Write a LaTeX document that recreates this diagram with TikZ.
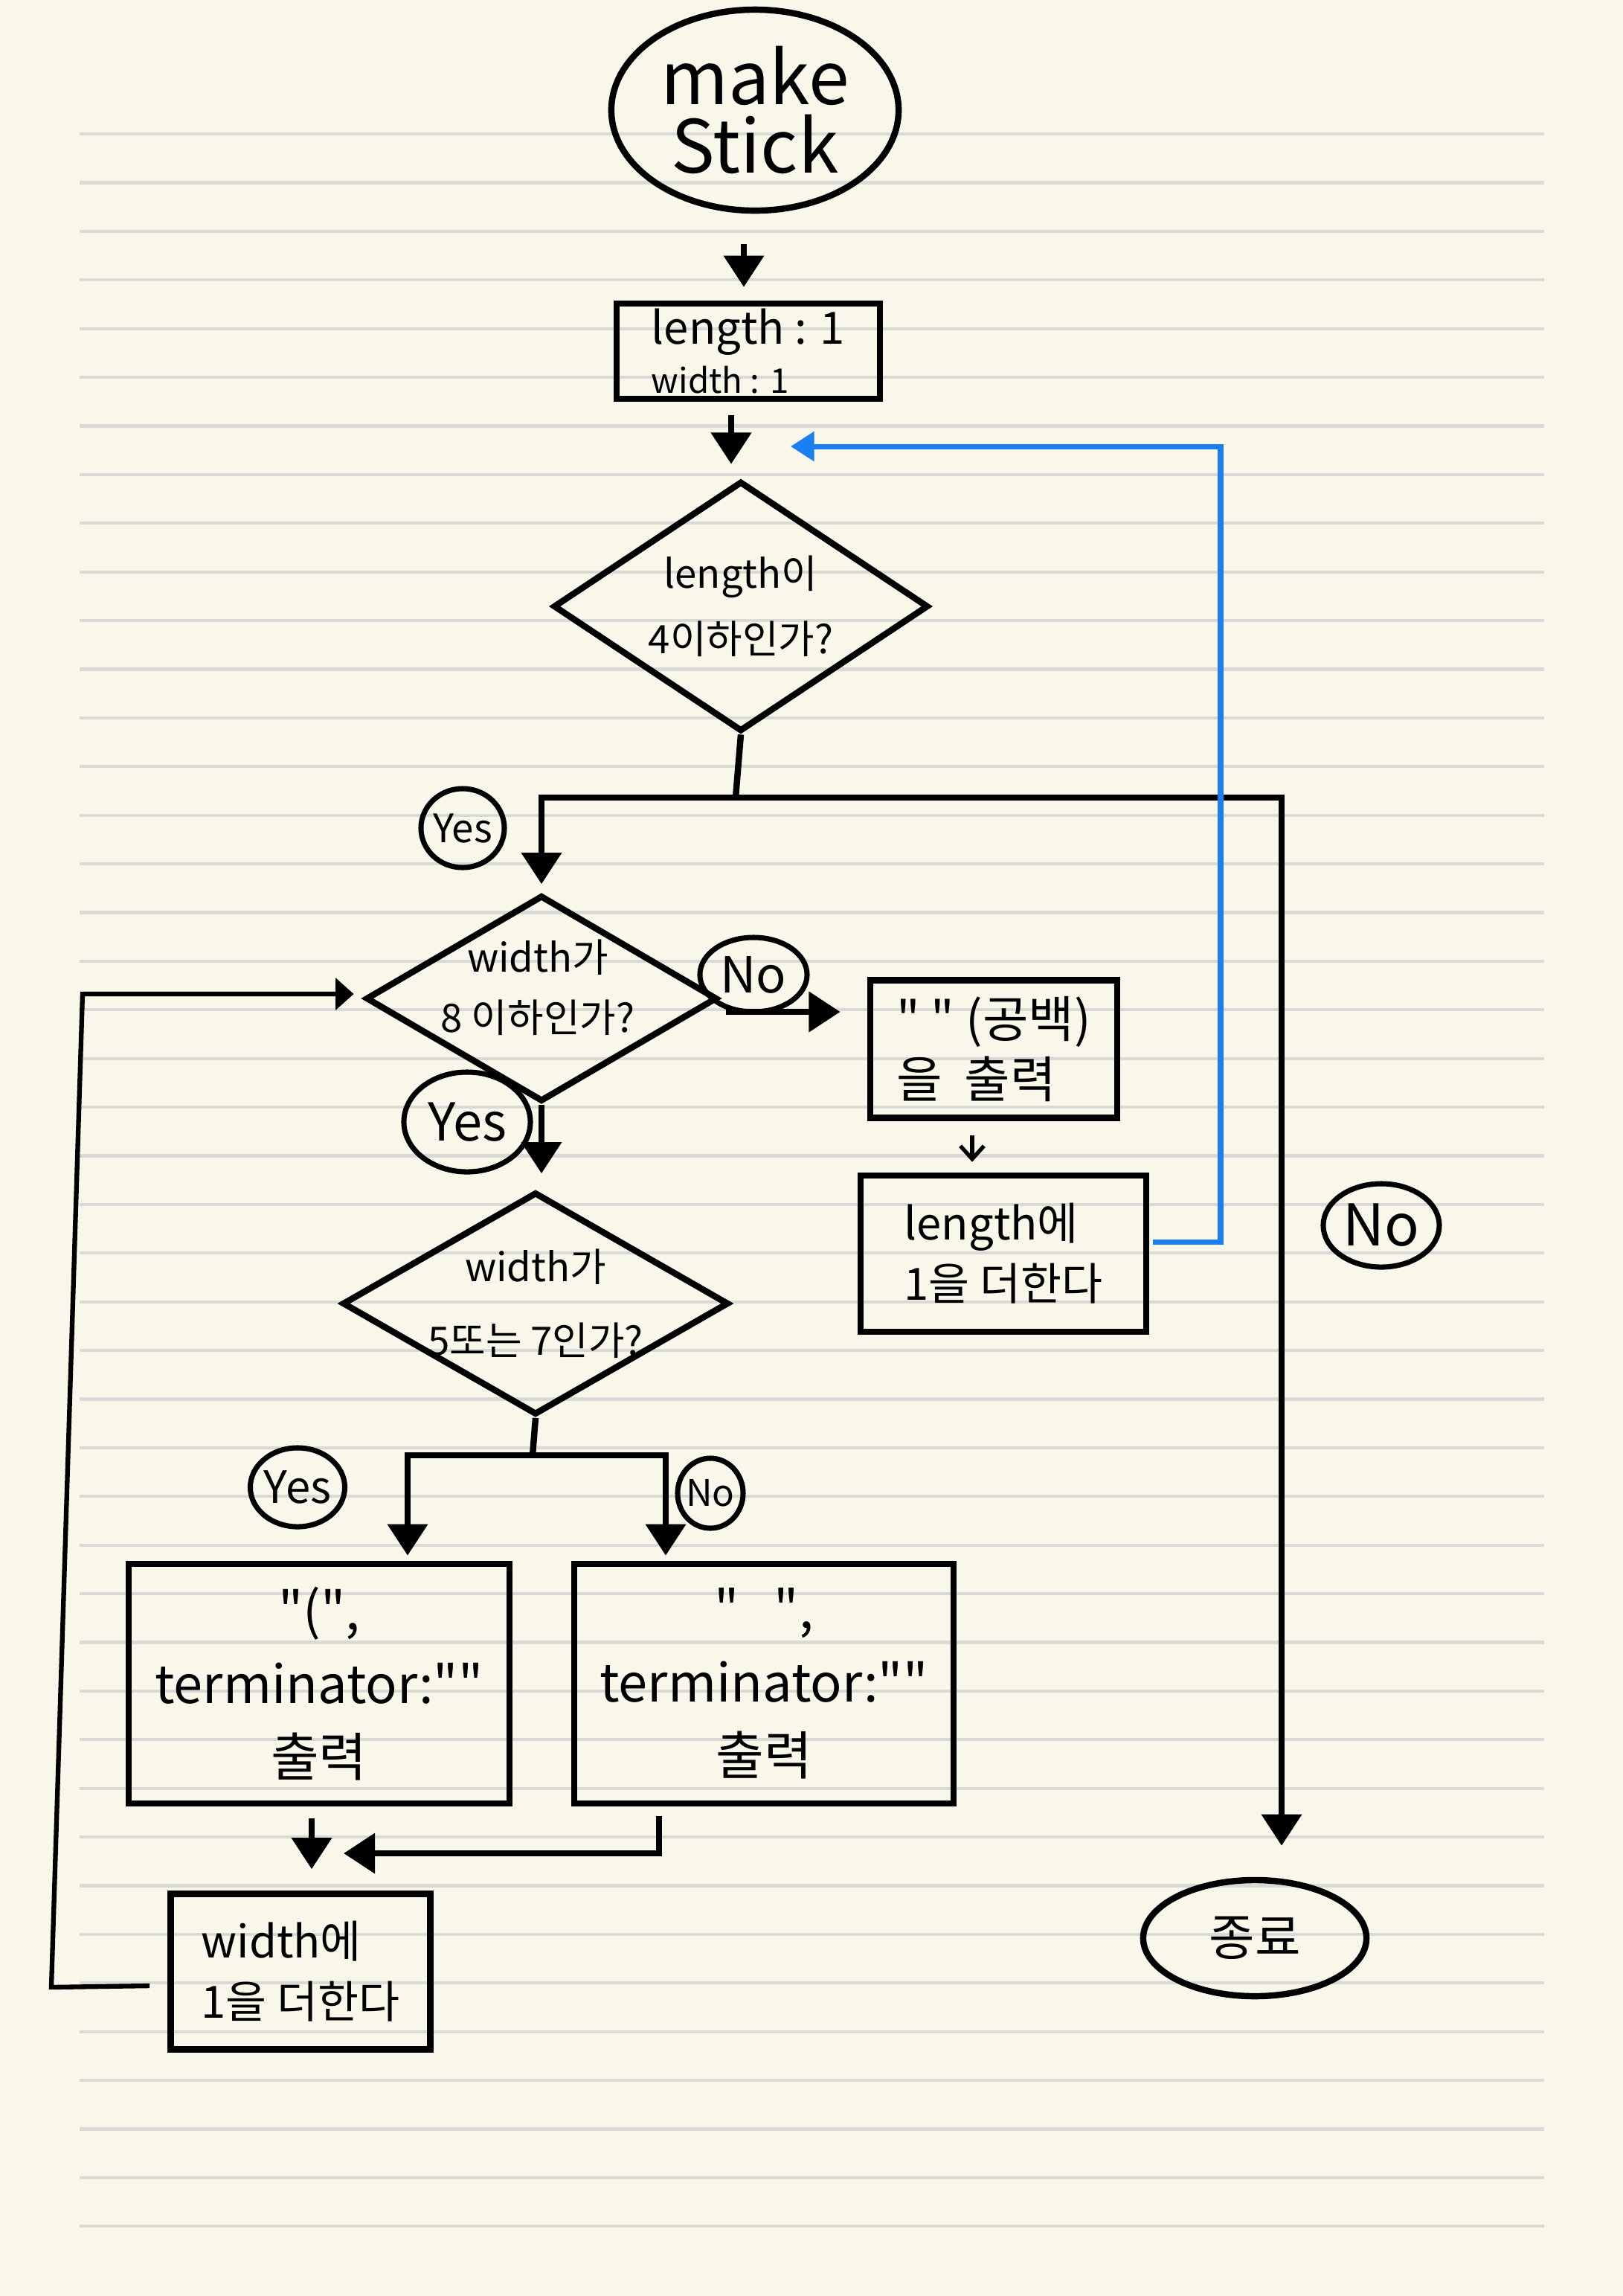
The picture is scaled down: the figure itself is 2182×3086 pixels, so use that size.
\documentclass[tikz,border=0pt]{standalone}
\usepackage{fontspec}
\setmainfont{Noto Sans CJK KR}
\usetikzlibrary{shapes.geometric,arrows.meta,calc}
\definecolor{paper}{HTML}{F8F7EA}
\definecolor{ruleline}{HTML}{D9D9D5}
\definecolor{loopblue}{HTML}{1A7FF0}
\begin{document}
\begin{tikzpicture}[x=0.01cm, y=-0.01cm,
  line/.style={line width=2.4pt},
  arr/.style={line width=2.4pt, -{Triangle[width=15pt,length=12pt]}},
  thinarr/.style={line width=1.5pt, -{Straight Barb[width=9pt,length=5pt]}},
  backarr/.style={line width=2pt, loopblue, -{Triangle[width=11pt,length=9pt]}},
  loopline/.style={line width=1.8pt, -{Triangle[width=12pt,length=7pt]}},
  box/.style={draw, line width=2.4pt, inner sep=0pt},
  oval/.style={draw, ellipse, line width=2.4pt, inner sep=0pt},
  decision/.style={draw, diamond, line width=2.4pt, inner sep=0pt},
  qtext/.style={align=center, font=\fontsize{15}{25}\selectfont},
  tag/.style={draw, ellipse, line width=2pt, inner sep=0pt}]
  \fill[paper] (0,0) rectangle (2182,3086);
  \useasboundingbox (0,0) rectangle (2182,3086);
  \foreach \k in {0,...,43}
    \draw[ruleline, line width=1.2pt] (107,{180+65.4*\k}) -- (2076,{180+65.4*\k});

  \node[oval, minimum width=3.86cm, minimum height=2.70cm, align=center,
    font=\fontsize{28}{26}\selectfont] (start) at (1015,148) {make\\Stick};
  \node[box, minimum width=3.54cm, minimum height=1.28cm, align=left,
    font=\fontsize{17}{19}\selectfont] (init) at (1006,472)
    {length : 1\\{\fontsize{13}{15}\selectfont width : 1}};
  \node[decision, minimum width=5.04cm, minimum height=3.36cm] (q1) at (996,815) {};
  \node[qtext] (q1t) at (q1) {length이\\4이하인가?};
  \node[decision, minimum width=4.72cm, minimum height=2.77cm] (q2) at (728,1342) {};
  \node[qtext, font=\fontsize{15}{23}\selectfont] (q2t) at ($(q2)+(-5,-15)$) {width가\\8 이하인가?};
  \node[box, minimum width=3.32cm, minimum height=1.85cm, align=left,
    font=\fontsize{19}{23}\selectfont] (sp) at (1336,1410)
    {\textquotedbl\ \textquotedbl\ (공백)\\을 \ 출력};
  \node[box, minimum width=3.84cm, minimum height=2.10cm, align=left,
    font=\fontsize{17}{23}\selectfont] (lenadd) at (1349,1685) {length에\\1을 더한다};
  \node[decision, minimum width=5.19cm, minimum height=2.99cm] (q3) at (720,1752) {};
  \node[qtext, font=\fontsize{15}{28}\selectfont] (q3t) at (q3) {width가\\5또는 7인가?};
  \node[box, minimum width=5.12cm, minimum height=3.22cm, align=center,
    font=\fontsize{20}{28}\selectfont] (outA) at (429,2263)
    {\textquotedbl(\textquotedbl,\\terminator:\textquotedbl\textquotedbl\\출력};
  \node[box, minimum width=5.10cm, minimum height=3.22cm, align=center,
    font=\fontsize{20}{28}\selectfont] (outB) at (1027,2263)
    {\textquotedbl\ \ \ \textquotedbl,\\terminator:\textquotedbl\textquotedbl\\출력};
  \node[box, minimum width=3.49cm, minimum height=2.09cm, align=left,
    font=\fontsize{17}{23}\selectfont] (wadd) at (404,2650) {width에\\1을 더한다};
  \node[oval, minimum width=3.00cm, minimum height=1.56cm,
    font=\fontsize{19}{19}\selectfont] (end) at (1687,2605) {종료};

  \node[tag, minimum width=1.12cm, minimum height=1.06cm,
    label={[font=\fontsize{15}{15}\selectfont]center:Yes}] (yes1) at (622,1113) {};
  \node[tag, minimum width=1.44cm, minimum height=1.00cm,
    label={[font=\fontsize{19}{19}\selectfont]center:No}] (no1) at (1013,1310) {};
  \node[tag, minimum width=1.70cm, minimum height=1.34cm,
    label={[font=\fontsize{20}{20}\selectfont]center:Yes}] (yes2) at (628,1508) {};
  \node[tag, minimum width=1.56cm, minimum height=1.12cm,
    label={[font=\fontsize{22}{22}\selectfont]center:No}] (no2) at (1857,1647) {};
  \node[tag, minimum width=1.27cm, minimum height=1.06cm,
    label={[font=\fontsize{17}{17}\selectfont]center:Yes}] (yes3) at (400,1999) {};
  \node[tag, minimum width=0.88cm, minimum height=0.94cm,
    label={[font=\fontsize{14}{14}\selectfont]center:No}] (no3) at (955,2007) {};

  \coordinate (split1) at (989,1072);
  \coordinate (split3) at (716,1956);
  \coordinate (backturn) at (1641,600);
  \coordinate (backin) at (1063,600);
  \coordinate (join) at (462,2491);
  \coordinate (loopbot) at (69,2671);
  \coordinate (looptop) at (111,1336);

  \draw[arr, shorten <=4.1mm, shorten >=1.8mm] ($(start.south)+(-15,0)$) -- ($(start.south |- init.north)+(-15,0)$);
  \draw[arr, shorten <=1.8mm, shorten >=1.9mm] ($(init.south)+(-23,0)$) -- ($(init.south |- q1.north)+(-23,0)$);
  \draw[line] (q1.south) -- (split1);
  \draw[arr, shorten >=1.1mm] (split1) -| (q2.north);
  \draw[arr, shorten >=4.2mm] (split1) -| ($(end.north)+(36,0)$);
  \draw[arr, shorten <=0.8mm, shorten >=3.6mm] ($(q2.east)+(0,18)$) -- ($(q2.east -| sp.west)+(0,18)$);
  \draw[thinarr, shorten <=1.9mm, shorten >=1.4mm] ($(sp.south)+(-29,0)$) -- ($(sp.south |- lenadd.north)+(-29,0)$);
  \draw[backarr] ($(lenadd.east)+(5,-16)$) -| (backturn) -- (backin);
  \draw[arr, shorten >=2.1mm] (q2.south) -- (q2.south |- q3.north);
  \draw[line] (q3.south) -- (split3);
  \draw[arr, shorten >=0.7mm] (split3) -| ($(outA.north)+(119,0)$);
  \draw[arr, shorten >=0.7mm] (split3) -| ($(outB.north)+(-132,0)$);
  \draw[arr, shorten <=1.6mm, shorten >=2.9mm] ($(outA.south)+(-10,0)$) -- ($(outA.south |- wadd.north)+(-10,0)$);
  \draw[arr] ($(outB.south)+(-141,13)$) |- (join);
  \draw[loopline, shorten >=1.2mm] ($(wadd.west)+(-24,19)$) -- (loopbot) -- (looptop) -- (looptop -| q2.west);
\end{tikzpicture}
\end{document}
